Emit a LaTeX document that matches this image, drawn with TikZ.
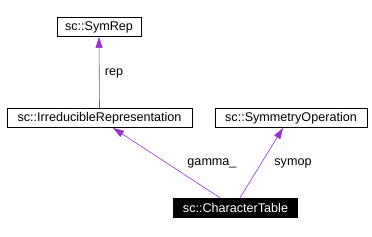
\documentclass[tikz,border=0pt]{standalone}
\usepackage{fontspec}
\setmainfont{Liberation Sans}
\usepackage{tikz}
\usetikzlibrary{positioning,arrows.meta}

\definecolor{usecol}{HTML}{9A32CD}

\begin{document}
\begin{tikzpicture}[x=1pt, y=-1pt, font=\fontsize{12.6}{14}\selectfont,
  cls/.style={draw, thick, fill=white, inner sep=0pt, minimum height=19pt},
  clsmain/.style={fill=black, text=white, inner sep=0pt, minimum height=20pt},
  usage/.style={usecol, semithick, -{Triangle[length=11pt,width=7pt]}},
  lbl/.style={inner sep=1pt}]
  \useasboundingbox (0,0) rectangle (372,236);
  % classes
  \node[cls, minimum width=84pt]  (symrep) at (99,27)     {sc::SymRep};
  \node[cls, minimum width=185pt] (irrep)  at (99.5,118)  {sc::IrreducibleRepresentation};
  \node[cls, minimum width=152pt] (symop)  at (291,118)   {sc::SymmetryOperation};
  \node[clsmain, minimum width=125pt] (chartab) at (235.5,208) {sc::CharacterTable};
  % usage edges
  \draw[usage] (irrep.north) -- (symrep.south);
  \draw[usage] ([xshift=-15.5pt]chartab.north) -- ([xshift=13.5pt]irrep.south);
  \draw[usage] ([xshift=4.5pt]chartab.north) -- ([xshift=-8pt]symop.south);
  % labels
  \node[lbl] (lrep)   at (114,73)  {rep};
  \node[lbl] (lgamma) at (212,163) {gamma\_};
  \node[lbl] (lsymop) at (293,163) {symop};
\end{tikzpicture}
\end{document}
